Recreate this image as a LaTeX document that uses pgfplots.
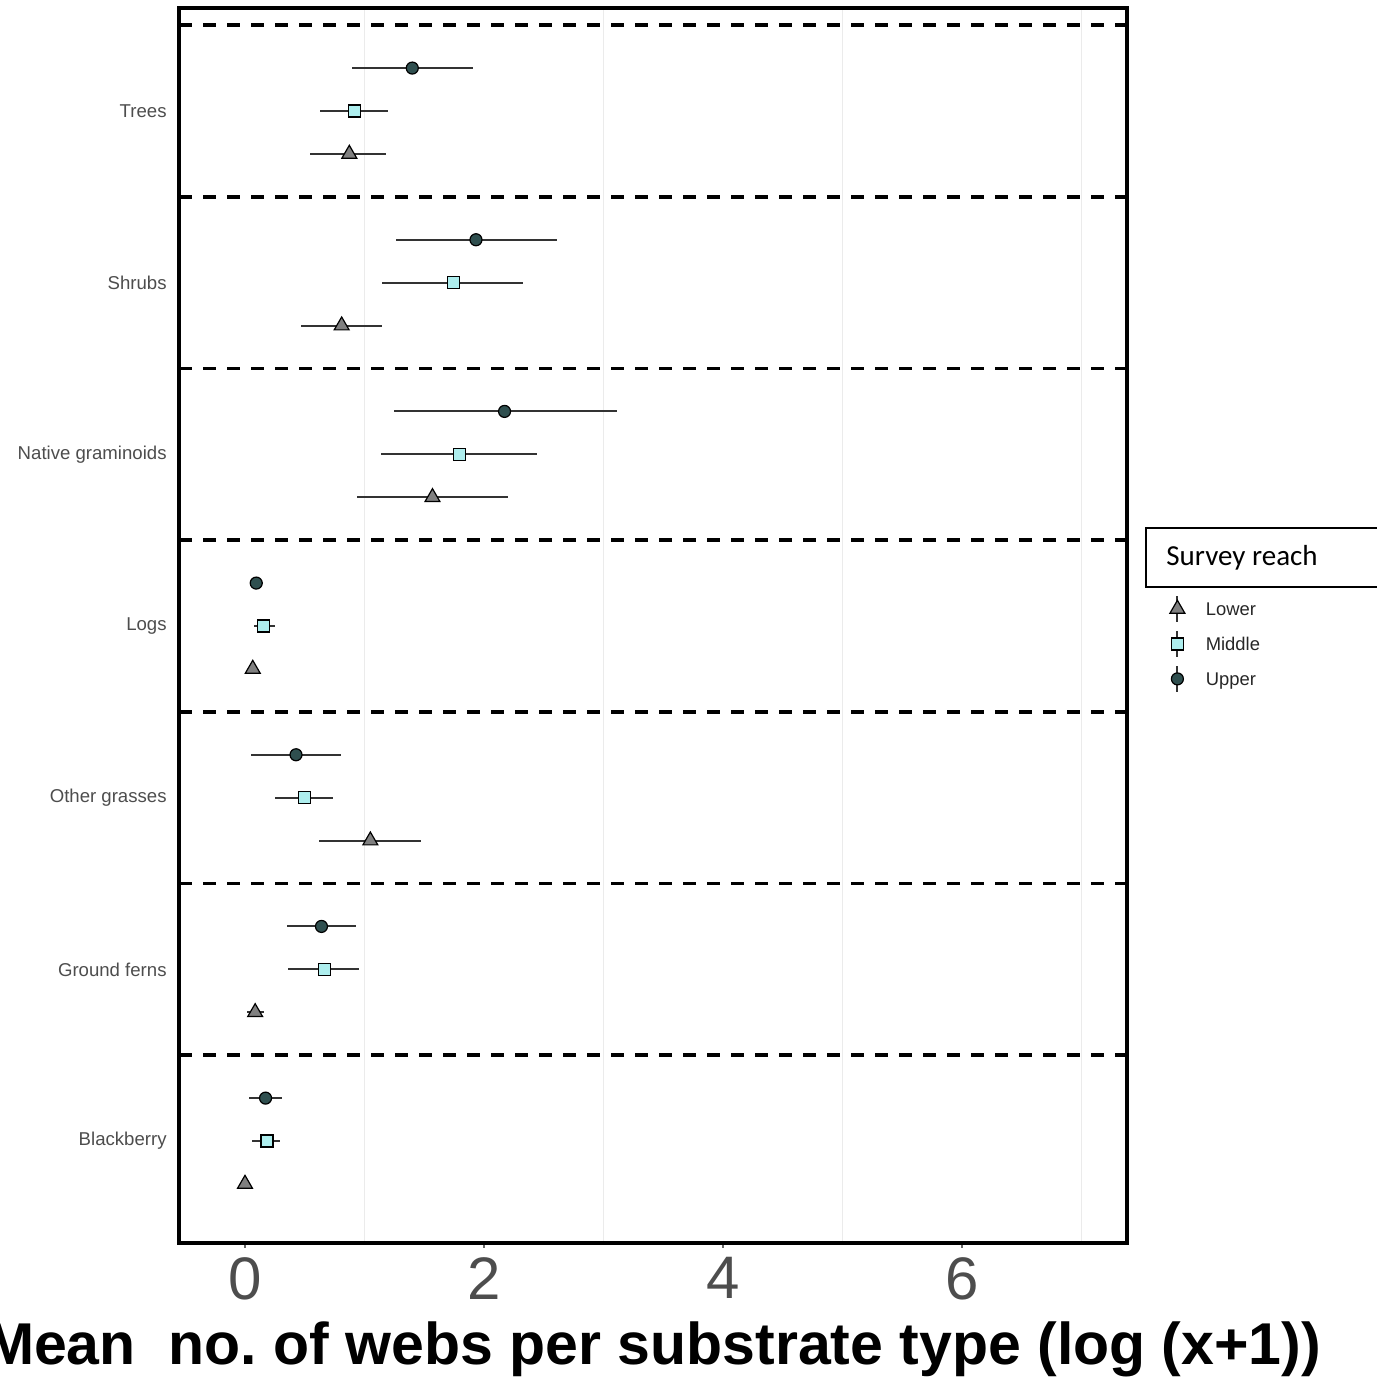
\documentclass[border=0pt]{standalone}
\usepackage{pgfplots}
\pgfplotsset{compat=1.18}
\usepackage{pgfplotstable}
\usepackage{fontspec}
\setmainfont{Liberation Sans}
\newfontfamily\titlefont{Carlito}
\frenchspacing

\definecolor{upperfill}{HTML}{2F4F4F}
\definecolor{middlefill}{HTML}{AEEEEE}
\definecolor{lowerfill}{HTML}{808080}
\definecolor{errgray}{HTML}{333333}
\definecolor{gridgray}{HTML}{EBEBEB}
\definecolor{labelgray}{HTML}{4D4D4D}

% cat: 1 Blackberry ... 7 Trees; val = mean, lo/hi = interval ends
\pgfplotstableread{
cat val   lo    hi
7   0.873 0.543 1.183
6   0.809 0.468 1.146
5   1.569 0.936 2.199
4   0.065 0.040 0.090
3   1.049 0.618 1.476
2   0.085 0.020 0.160
1   0.000 0.000 0.000
}\lowertab
\pgfplotstableread{
cat val   lo    hi
7   0.918 0.629 1.195
6   1.742 1.150 2.326
5   1.794 1.139 2.442
4   0.157 0.075 0.247
3   0.498 0.251 0.738
2   0.667 0.363 0.955
1   0.184 0.060 0.296
}\middletab
\pgfplotstableread{
cat val   lo    hi
7   1.400 0.895 1.906
6   1.933 1.262 2.607
5   2.172 1.251 3.112
4   0.094 0.050 0.150
3   0.427 0.049 0.805
2   0.640 0.352 0.933
1   0.172 0.034 0.307
}\uppertab

\pgfplotsset{
  reachlegend/.style={
    legend image code/.code={
      \draw[line width=1pt, draw=errgray] (0pt,-6.5pt) -- (0pt,6.5pt);
      \path (-6pt,0pt) (6pt,0pt);
      \draw plot coordinates {(0pt,0pt)};
    }
  },
  reachbars/.style={
    error bars/.cd, x dir=both, x explicit, error mark=none,
    error bar style={line width=1pt, draw=errgray}
  }
}

\begin{document}
\begin{tikzpicture}
\begin{axis}[
  at={(89.5pt,69pt)}, anchor=south west,
  scale only axis, width=474pt, height=617.5pt,
  xmin=-0.5523, xmax=7.381, ymin=0.406, ymax=7.6,
  axis line style={line width=2.25pt, black},
  tick align=outside,
  major tick length=2.5pt,
  xtick pos=lower,
  xtick={0,2,4,6},
  minor xtick={1,3,5,7},
  xminorgrids,
  minor grid style={color=gridgray, line width=0.5pt},
  minor tick length=0pt,
  xtick style={color=black!60, line width=1pt},
  /pgf/number format/assume math mode=true,
  xticklabel style={font=\fontsize{30}{30}\selectfont, text=labelgray, inner sep=0pt, yshift=-4.5pt},
  ytick={1,...,7},
  yticklabels={Blackberry, Ground ferns, Other grasses, Logs, Native graminoids, Shrubs, Trees},
  ytick style={draw=none},
  yticklabel style={font=\fontsize{9.3}{9.3}\selectfont, text=labelgray, inner sep=0pt, xshift=-3.5pt},
  extra y ticks={1.5,2.5,3.5,4.5,5.5,6.5,7.5},
  extra y tick labels={},
  extra y tick style={grid=major, major grid style={dash pattern=on 6.25pt off 5.75pt, line width=1.9pt, black}},
  legend style={at={(axis description cs:1.0401,0.5276)}, anchor=north west,
    draw=none, fill=none, inner sep=0pt, outer sep=0pt, row sep=0pt,
    column sep=8pt,
    font=\fontsize{9.2}{9.2}\selectfont, text=black!85,
    nodes={inner sep=0pt, text height=12pt, text depth=5.5pt}},
  legend cell align=left,
]
\addplot[only marks, mark=triangle*, mark size=4.3pt,
  mark options={fill=lowerfill, draw=black, line width=0.6pt}, reachlegend, reachbars]
  table[x=val, y expr=\thisrow{cat}-0.25,
    x error plus expr=\thisrow{hi}-\thisrow{val},
    x error minus expr=\thisrow{val}-\thisrow{lo}] {\lowertab};
\addlegendentry{Lower}
\addplot[only marks, mark=square*, mark size=3pt,
  mark options={fill=middlefill, draw=black, line width=0.6pt}, reachlegend, reachbars]
  table[x=val, y expr=\thisrow{cat},
    x error plus expr=\thisrow{hi}-\thisrow{val},
    x error minus expr=\thisrow{val}-\thisrow{lo}] {\middletab};
\addlegendentry{Middle}
\addplot[only marks, mark=*, mark size=3pt,
  mark options={fill=upperfill, draw=black, line width=0.6pt}, reachlegend, reachbars]
  table[x=val, y expr=\thisrow{cat}+0.25,
    x error plus expr=\thisrow{hi}-\thisrow{val},
    x error minus expr=\thisrow{val}-\thisrow{lo}] {\uppertab};
\addlegendentry{Upper}
\end{axis}

% x-axis title
\node[anchor=base, inner sep=0pt, font=\fontsize{29.5}{29.5}\selectfont\bfseries]
  at (326.5pt,8.5pt) {Mean~ no. of webs per substrate type (log (x+1))};

% legend title box
\draw[line width=0.8pt] (573pt,397pt) rectangle (720pt,426.5pt);
\node[anchor=base west, inner sep=0pt, font=\titlefont\fontsize{14.5}{14.5}\selectfont]
  at (583pt,407.5pt) {Survey reach};

\pgfresetboundingbox
\path[use as bounding box] (0pt,0pt) rectangle (688pt,690.5pt);
\end{tikzpicture}
\end{document}
